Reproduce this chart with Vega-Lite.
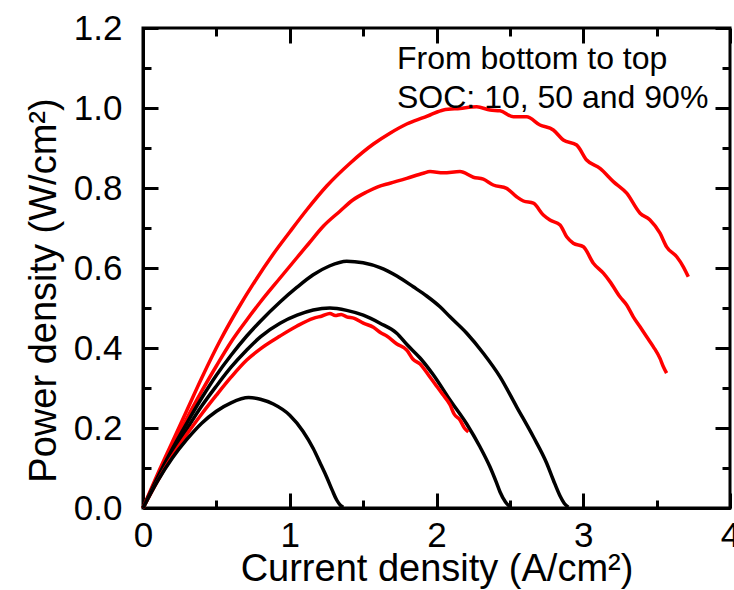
{
  "$schema": "https://vega.github.io/schema/vega-lite/v6.json",
  "width": 587,
  "height": 480,
  "autosize": {"type": "none"},
  "padding": {"left": 143, "top": 28, "right": 4, "bottom": 82},
  "background": "white",
  "config": {
    "view": {"stroke": "black", "strokeWidth": 3},
    "font": "Liberation Sans"
  },
  "datasets": {
    "curves": [
      {"c": "R90", "j": 0, "p": 0}, {"c": "R90", "j": 0.1, "p": 0.085}, {"c": "R90", "j": 0.2, "p": 0.165}, {"c": "R90", "j": 0.3, "p": 0.245}, {"c": "R90", "j": 0.4, "p": 0.325}, {"c": "R90", "j": 0.525, "p": 0.418}, {"c": "R90", "j": 0.65, "p": 0.5}, {"c": "R90", "j": 0.763, "p": 0.567}, {"c": "R90", "j": 0.888, "p": 0.635}, {"c": "R90", "j": 1.0, "p": 0.69}, {"c": "R90", "j": 1.115, "p": 0.745}, {"c": "R90", "j": 1.252, "p": 0.805}, {"c": "R90", "j": 1.411, "p": 0.862}, {"c": "R90", "j": 1.57, "p": 0.91}, {"c": "R90", "j": 1.683, "p": 0.937}, {"c": "R90", "j": 1.797, "p": 0.96}, {"c": "R90", "j": 1.91, "p": 0.976}, {"c": "R90", "j": 1.956, "p": 0.9825}, {"c": "R90", "j": 2.047, "p": 0.995}, {"c": "R90", "j": 2.16, "p": 0.999}, {"c": "R90", "j": 2.274, "p": 1.003}, {"c": "R90", "j": 2.365, "p": 0.995}, {"c": "R90", "j": 2.433, "p": 0.993}, {"c": "R90", "j": 2.524, "p": 0.978}, {"c": "R90", "j": 2.614, "p": 0.978}, {"c": "R90", "j": 2.705, "p": 0.9575}, {"c": "R90", "j": 2.796, "p": 0.945}, {"c": "R90", "j": 2.864, "p": 0.92}, {"c": "R90", "j": 2.955, "p": 0.9075}, {"c": "R90", "j": 3.023, "p": 0.87}, {"c": "R90", "j": 3.114, "p": 0.849}, {"c": "R90", "j": 3.205, "p": 0.816}, {"c": "R90", "j": 3.296, "p": 0.787}, {"c": "R90", "j": 3.387, "p": 0.737}, {"c": "R90", "j": 3.455, "p": 0.72}, {"c": "R90", "j": 3.523, "p": 0.687}, {"c": "R90", "j": 3.568, "p": 0.653}, {"c": "R90", "j": 3.637, "p": 0.628}, {"c": "R90", "j": 3.682, "p": 0.603}, {"c": "R90", "j": 3.716, "p": 0.578},
      {"c": "R50", "j": 0, "p": 0}, {"c": "R50", "j": 0.1, "p": 0.08}, {"c": "R50", "j": 0.2, "p": 0.155}, {"c": "R50", "j": 0.3, "p": 0.225}, {"c": "R50", "j": 0.4, "p": 0.292}, {"c": "R50", "j": 0.5, "p": 0.355}, {"c": "R50", "j": 0.6, "p": 0.415}, {"c": "R50", "j": 0.707, "p": 0.47}, {"c": "R50", "j": 0.8, "p": 0.515}, {"c": "R50", "j": 0.934, "p": 0.575}, {"c": "R50", "j": 1.047, "p": 0.625}, {"c": "R50", "j": 1.127, "p": 0.66}, {"c": "R50", "j": 1.23, "p": 0.705}, {"c": "R50", "j": 1.342, "p": 0.742}, {"c": "R50", "j": 1.43, "p": 0.77}, {"c": "R50", "j": 1.524, "p": 0.79}, {"c": "R50", "j": 1.6, "p": 0.803}, {"c": "R50", "j": 1.683, "p": 0.812}, {"c": "R50", "j": 1.797, "p": 0.824}, {"c": "R50", "j": 1.91, "p": 0.837}, {"c": "R50", "j": 1.956, "p": 0.841}, {"c": "R50", "j": 2.047, "p": 0.838}, {"c": "R50", "j": 2.16, "p": 0.841}, {"c": "R50", "j": 2.251, "p": 0.827}, {"c": "R50", "j": 2.319, "p": 0.822}, {"c": "R50", "j": 2.387, "p": 0.8075}, {"c": "R50", "j": 2.478, "p": 0.799}, {"c": "R50", "j": 2.546, "p": 0.778}, {"c": "R50", "j": 2.592, "p": 0.7675}, {"c": "R50", "j": 2.66, "p": 0.762}, {"c": "R50", "j": 2.728, "p": 0.7325}, {"c": "R50", "j": 2.773, "p": 0.72}, {"c": "R50", "j": 2.842, "p": 0.7075}, {"c": "R50", "j": 2.887, "p": 0.678}, {"c": "R50", "j": 2.932, "p": 0.662}, {"c": "R50", "j": 3.001, "p": 0.653}, {"c": "R50", "j": 3.069, "p": 0.612}, {"c": "R50", "j": 3.137, "p": 0.587}, {"c": "R50", "j": 3.182, "p": 0.566}, {"c": "R50", "j": 3.25, "p": 0.528}, {"c": "R50", "j": 3.296, "p": 0.5075}, {"c": "R50", "j": 3.341, "p": 0.478}, {"c": "R50", "j": 3.387, "p": 0.453}, {"c": "R50", "j": 3.432, "p": 0.428}, {"c": "R50", "j": 3.478, "p": 0.403}, {"c": "R50", "j": 3.523, "p": 0.374}, {"c": "R50", "j": 3.546, "p": 0.353}, {"c": "R50", "j": 3.568, "p": 0.337},
      {"c": "B90", "j": 0, "p": 0}, {"c": "B90", "j": 0.1, "p": 0.077}, {"c": "B90", "j": 0.2, "p": 0.148}, {"c": "B90", "j": 0.3, "p": 0.213}, {"c": "B90", "j": 0.4, "p": 0.275}, {"c": "B90", "j": 0.5, "p": 0.332}, {"c": "B90", "j": 0.6, "p": 0.382}, {"c": "B90", "j": 0.707, "p": 0.43}, {"c": "B90", "j": 0.8, "p": 0.467}, {"c": "B90", "j": 0.934, "p": 0.515}, {"c": "B90", "j": 1.05, "p": 0.552}, {"c": "B90", "j": 1.16, "p": 0.583}, {"c": "B90", "j": 1.27, "p": 0.605}, {"c": "B90", "j": 1.388, "p": 0.617}, {"c": "B90", "j": 1.5, "p": 0.613}, {"c": "B90", "j": 1.615, "p": 0.601}, {"c": "B90", "j": 1.73, "p": 0.58}, {"c": "B90", "j": 1.842, "p": 0.553}, {"c": "B90", "j": 1.933, "p": 0.53}, {"c": "B90", "j": 2.024, "p": 0.503}, {"c": "B90", "j": 2.092, "p": 0.478}, {"c": "B90", "j": 2.206, "p": 0.437}, {"c": "B90", "j": 2.319, "p": 0.387}, {"c": "B90", "j": 2.433, "p": 0.328}, {"c": "B90", "j": 2.546, "p": 0.253}, {"c": "B90", "j": 2.66, "p": 0.178}, {"c": "B90", "j": 2.751, "p": 0.112}, {"c": "B90", "j": 2.796, "p": 0.07}, {"c": "B90", "j": 2.842, "p": 0.03}, {"c": "B90", "j": 2.87, "p": 0.012}, {"c": "B90", "j": 2.898, "p": 0.002},
      {"c": "B50", "j": 0, "p": 0}, {"c": "B50", "j": 0.1, "p": 0.072}, {"c": "B50", "j": 0.2, "p": 0.138}, {"c": "B50", "j": 0.3, "p": 0.198}, {"c": "B50", "j": 0.4, "p": 0.255}, {"c": "B50", "j": 0.5, "p": 0.305}, {"c": "B50", "j": 0.6, "p": 0.352}, {"c": "B50", "j": 0.707, "p": 0.395}, {"c": "B50", "j": 0.8, "p": 0.428}, {"c": "B50", "j": 0.934, "p": 0.462}, {"c": "B50", "j": 1.05, "p": 0.482}, {"c": "B50", "j": 1.16, "p": 0.495}, {"c": "B50", "j": 1.274, "p": 0.5}, {"c": "B50", "j": 1.388, "p": 0.494}, {"c": "B50", "j": 1.501, "p": 0.482}, {"c": "B50", "j": 1.615, "p": 0.462}, {"c": "B50", "j": 1.729, "p": 0.437}, {"c": "B50", "j": 1.8, "p": 0.408}, {"c": "B50", "j": 1.888, "p": 0.375}, {"c": "B50", "j": 1.978, "p": 0.333}, {"c": "B50", "j": 2.092, "p": 0.27}, {"c": "B50", "j": 2.206, "p": 0.21}, {"c": "B50", "j": 2.296, "p": 0.153}, {"c": "B50", "j": 2.364, "p": 0.103}, {"c": "B50", "j": 2.41, "p": 0.062}, {"c": "B50", "j": 2.433, "p": 0.04}, {"c": "B50", "j": 2.47, "p": 0.015}, {"c": "B50", "j": 2.5, "p": 0.003},
      {"c": "R10", "j": 0, "p": 0}, {"c": "R10", "j": 0.1, "p": 0.068}, {"c": "R10", "j": 0.2, "p": 0.13}, {"c": "R10", "j": 0.3, "p": 0.185}, {"c": "R10", "j": 0.4, "p": 0.235}, {"c": "R10", "j": 0.5, "p": 0.282}, {"c": "R10", "j": 0.6, "p": 0.327}, {"c": "R10", "j": 0.707, "p": 0.37}, {"c": "R10", "j": 0.8, "p": 0.398}, {"c": "R10", "j": 0.934, "p": 0.43}, {"c": "R10", "j": 1.05, "p": 0.455}, {"c": "R10", "j": 1.16, "p": 0.474}, {"c": "R10", "j": 1.22, "p": 0.48}, {"c": "R10", "j": 1.274, "p": 0.486}, {"c": "R10", "j": 1.31, "p": 0.481}, {"c": "R10", "j": 1.35, "p": 0.484}, {"c": "R10", "j": 1.388, "p": 0.478}, {"c": "R10", "j": 1.44, "p": 0.474}, {"c": "R10", "j": 1.501, "p": 0.462}, {"c": "R10", "j": 1.57, "p": 0.452}, {"c": "R10", "j": 1.62, "p": 0.438}, {"c": "R10", "j": 1.661, "p": 0.43}, {"c": "R10", "j": 1.73, "p": 0.41}, {"c": "R10", "j": 1.797, "p": 0.395}, {"c": "R10", "j": 1.84, "p": 0.372}, {"c": "R10", "j": 1.888, "p": 0.36}, {"c": "R10", "j": 1.95, "p": 0.33}, {"c": "R10", "j": 1.99, "p": 0.31}, {"c": "R10", "j": 2.04, "p": 0.285}, {"c": "R10", "j": 2.092, "p": 0.258}, {"c": "R10", "j": 2.12, "p": 0.235}, {"c": "R10", "j": 2.16, "p": 0.22}, {"c": "R10", "j": 2.19, "p": 0.2}, {"c": "R10", "j": 2.217, "p": 0.19},
      {"c": "B10", "j": 0, "p": 0}, {"c": "B10", "j": 0.1, "p": 0.068}, {"c": "B10", "j": 0.2, "p": 0.125}, {"c": "B10", "j": 0.3, "p": 0.172}, {"c": "B10", "j": 0.4, "p": 0.212}, {"c": "B10", "j": 0.5, "p": 0.242}, {"c": "B10", "j": 0.6, "p": 0.263}, {"c": "B10", "j": 0.72, "p": 0.276}, {"c": "B10", "j": 0.8, "p": 0.272}, {"c": "B10", "j": 0.888, "p": 0.26}, {"c": "B10", "j": 1.0, "p": 0.232}, {"c": "B10", "j": 1.09, "p": 0.192}, {"c": "B10", "j": 1.161, "p": 0.148}, {"c": "B10", "j": 1.21, "p": 0.11}, {"c": "B10", "j": 1.252, "p": 0.077}, {"c": "B10", "j": 1.29, "p": 0.044}, {"c": "B10", "j": 1.32, "p": 0.02}, {"c": "B10", "j": 1.345, "p": 0.007}, {"c": "B10", "j": 1.365, "p": 0.002}
    ],
    "note": [
      {"j": 1.731, "p": 1.0975, "t": "From bottom to top"},
      {"j": 1.731, "p": 1.0, "t": "SOC: 10, 50 and 90%"}
    ]
  },
  "layer": [
    {
      "data": {"name": "curves"},
      "mark": {"type": "line", "strokeOpacity": 0},
      "encoding": {
        "x": {
          "field": "j", "type": "quantitative",
          "scale": {"domain": [0, 4], "nice": false, "zero": false},
          "axis": {
            "orient": "top", "values": [0, 0.5, 1, 1.5, 2, 2.5, 3, 3.5, 4],
            "labels": false, "domain": false, "grid": false, "title": null,
            "tickSize": {"expr": "datum.value % 1 === 0 ? -15 : -8"},
            "tickWidth": 3, "tickColor": "black"
          }
        },
        "y": {
          "field": "p", "type": "quantitative",
          "scale": {"domain": [0, 1.2], "nice": false, "zero": false},
          "axis": {
            "orient": "right", "values": [0, 0.1, 0.2, 0.3, 0.4, 0.5, 0.6, 0.7, 0.8, 0.9, 1.0, 1.1, 1.2],
            "labels": false, "domain": false, "grid": false, "title": null,
            "tickSize": {"expr": "round(datum.value * 10) % 2 === 0 ? -15 : -8"},
            "tickWidth": 3, "tickColor": "black"
          }
        },
        "detail": {"field": "c"}
      }
    },
    {
      "data": {"name": "curves"},
      "mark": {"type": "line", "strokeWidth": 3.5, "interpolate": "monotone"},
      "encoding": {
        "x": {
          "field": "j", "type": "quantitative",
          "scale": {"domain": [0, 4], "nice": false, "zero": false},
          "axis": {
            "orient": "bottom", "values": [0, 0.5, 1, 1.5, 2, 2.5, 3, 3.5, 4],
            "labelExpr": "datum.value % 1 === 0 ? format(datum.value, 'd') : ''",
            "tickSize": {"expr": "datum.value % 1 === 0 ? -15 : -8"},
            "tickWidth": 3, "tickColor": "black",
            "domainWidth": 3, "domainColor": "black", "grid": false,
            "labelFont": "Liberation Sans", "labelFontSize": 35, "labelColor": "black",
            "labelPadding": 25, "labelFlush": false, "labelOverlap": false,
            "title": "Current density (A/cm²)",
            "titleFont": "Liberation Sans", "titleFontSize": 38, "titleFontWeight": "normal",
            "titleColor": "black", "titleBaseline": "alphabetic", "titleY": 72
          }
        },
        "y": {
          "field": "p", "type": "quantitative",
          "scale": {"domain": [0, 1.2], "nice": false, "zero": false},
          "axis": {
            "orient": "left", "values": [0, 0.1, 0.2, 0.3, 0.4, 0.5, 0.6, 0.7, 0.8, 0.9, 1.0, 1.1, 1.2],
            "labelExpr": "round(datum.value * 10) % 2 === 0 ? format(datum.value, '.1f') : ''",
            "tickSize": {"expr": "round(datum.value * 10) % 2 === 0 ? -15 : -8"},
            "tickWidth": 3, "tickColor": "black",
            "domainWidth": 3, "domainColor": "black", "grid": false,
            "labelFont": "Liberation Sans", "labelFontSize": 35, "labelColor": "black",
            "labelPadding": 36, "labelFlush": false, "labelOverlap": false,
            "title": "Power density (W/cm²)",
            "titleFont": "Liberation Sans", "titleFontSize": 38, "titleFontWeight": "normal",
            "titleColor": "black", "titleAngle": -90, "titleAlign": "center",
            "titleBaseline": "alphabetic", "titleX": -88, "titleY": 262
          }
        },
        "color": {
          "field": "c", "type": "nominal",
          "scale": {"domain": ["B10", "B50", "B90", "R10", "R50", "R90"], "range": ["#000000", "#000000", "#000000", "#ff0000", "#ff0000", "#ff0000"]},
          "legend": null
        }
      }
    },
    {
      "data": {"name": "note"},
      "mark": {"type": "text", "align": "left", "baseline": "alphabetic", "font": "Liberation Sans", "fontSize": 32, "color": "black"},
      "encoding": {
        "x": {"field": "j", "type": "quantitative", "axis": null},
        "y": {"field": "p", "type": "quantitative", "axis": null},
        "text": {"field": "t"}
      }
    }
  ],
  "resolve": {"axis": {"x": "independent", "y": "independent"}}
}
